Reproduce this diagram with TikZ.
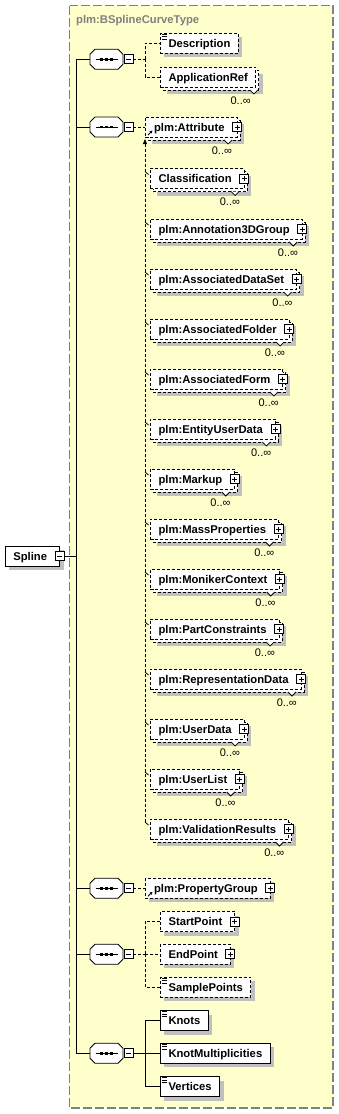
\documentclass[tikz,border=0pt]{standalone}
\usepackage{fontspec}
\setmainfont{Liberation Sans}
\usetikzlibrary{calc,arrows.meta}
\pgfdeclarelayer{bg}
\pgfdeclarelayer{shadow}
\pgfdeclarelayer{back}
\pgfsetlayers{bg,shadow,back,main}
\definecolor{bgyellow}{RGB}{255,255,204}
\definecolor{shadowgray}{RGB}{192,192,192}
\definecolor{framegray}{RGB}{128,128,128}
\newcommand\efont{\fontsize{11.25}{13}\selectfont\bfseries}
\newcommand\mfont{\fontsize{11}{13}\selectfont}
\tikzset{
  box/.style={draw=black, fill=white, line width=0.8pt, minimum height=20pt, inner sep=0pt, outer sep=0pt, anchor=west, font=\efont, text height=8pt, text depth=0pt},
  opt/.style={dash pattern=on 3pt off 2pt},
  conn/.style={draw=black, line width=0.8pt},
  optconn/.style={conn, dash pattern=on 3pt off 2pt},
  pmbox/.style={draw=black, fill=white, solid, line width=0.8pt, minimum size=9pt, inner sep=0pt, outer sep=0pt},
  plusbox/.style={pmbox, path picture={
     \draw[solid, line width=0.8pt] ([xshift=2pt]path picture bounding box.west) -- ([xshift=-2pt]path picture bounding box.east);
     \draw[solid, line width=0.8pt] ([yshift=-2pt]path picture bounding box.north) -- ([yshift=2pt]path picture bounding box.south);}},
  minusbox/.style={pmbox, path picture={
     \draw[solid, line width=0.8pt] ([xshift=2pt]path picture bounding box.west) -- ([xshift=-2pt]path picture bounding box.east);}},
  seqholder/.style={minimum width=33pt, minimum height=20pt, inner sep=0pt, outer sep=0pt},
  seqshape/.style={draw=black, fill=white, line width=0.8pt},
  mult/.style={font=\mfont, anchor=east, inner sep=0pt, text height=8pt, text depth=0pt},
  shadowfill/.style={fill=shadowgray},
}
\newcommand\xShadow[2]{\begin{pgfonlayer}{shadow}\fill[shadowfill] ($(#1.north west)+(#2,#2)$) rectangle ($(#1.south east)+(#2,#2)$);\end{pgfonlayer}}
\newcommand\xBack[2]{\begin{pgfonlayer}{back}\draw[line width=0.8pt,fill=white,#2] ($(#1.north west)+(3,3)$) rectangle ($(#1.south east)+(3,3)$);\end{pgfonlayer}}
\newcommand\xPlus[1]{\node[plusbox] (#1p) at (#1.east) {};}
\newcommand\xMult[3]{%
  \draw[line width=0.8pt, fill=white, solid] ($(#1.south east)+(-#2-4,3)$) -- ++(4,4) -- ++(4,-4);
  \node[mult] (#1m) at ($(#1.east)+(-#3,23)$) {0..∞};}
\newcommand\xIcon[1]{\foreach \dy in {1,3.3,5.6}{\draw[line width=0.8pt,solid] ($(#1.north west)+(2,\dy)$) -- ++(5,0);}}
\newcommand\xRef[1]{\draw[line width=0.8pt,solid,-{Stealth[length=3pt,width=3pt]}] ($(#1.south west)+(3,-2)$) -- ++(4.5,-4.5);}
\newcommand\xOctPath[1]{($(#1.north west)+(0,5)$) -- ($(#1.north west)+(5,0)$) -- ($(#1.north east)+(-5,0)$) -- ($(#1.north east)+(0,5)$) -- ($(#1.south east)+(0,-5)$) -- ($(#1.south east)+(-5,0)$) -- ($(#1.south west)+(5,0)$) -- ($(#1.south west)+(0,-5)$) -- cycle}
\newcommand\xSeq[2]{%
  \node[seqholder] (#1) at (106.5,#2) {};
  \begin{pgfonlayer}{shadow}\begin{scope}[shift={(4,4)}]\fill[shadowfill] \xOctPath{#1};\end{scope}\end{pgfonlayer}
  \draw[seqshape] \xOctPath{#1};
  \draw[line width=1pt] ($(#1.center)+(-11,0)$) -- ($(#1.center)+(11,0)$);
  \foreach \dx in {-5,0,5}{\fill ($(#1.center)+(\dx-1.3,-1.3)$) rectangle ++(2.6,2.6);}
  \node[minusbox] (#1m) at ($(#1.east)+(5.5,0)$) {};}
\newcommand\xMember[3]{%
  \node[box,opt] (#1) at (150,#2) {\kern8.5pt #3\kern12.5pt};
  \xShadow{#1}{7}\xBack{#1}{opt}\xPlus{#1}\xMult{#1}{9}{4}
  \draw[conn] ($(#1.west)+(-5,-7)$) -- ($(#1.west)+(-1.5,-4)$);}
\begin{document}
\begin{tikzpicture}[x=1pt,y=-1pt]
\useasboundingbox (0,0) rectangle (338,1114);
\begin{pgfonlayer}{bg}
  \fill[bgyellow] (69.5,5.5) rectangle (333,1108);
  \draw[framegray, line width=1.2pt, dash pattern=on 9pt off 3pt] (69.5,5.5) rectangle (333,1108);
\end{pgfonlayer}
\node[anchor=west, font=\efont, text=framegray, inner sep=0pt, text height=8pt, text depth=0pt] (title) at (76,19) {plm:BSplineCurveType};

% root
\node[box] (spline) at (5,556) {\kern8.3pt Spline\kern12.5pt};
\xShadow{spline}{4}
\node[minusbox] (splinem) at (spline.east) {};

% compositors
\xSeq{seq1}{59.3}
\xSeq{seq2}{127}
\xSeq{seq3}{888.3}
\xSeq{seq4}{954.3}
\xSeq{seq5}{1053.3}

% sequence 1
\node[box,opt] (desc) at (160,43.3) {\kern8.5pt Description\kern8pt};
\xShadow{desc}{4}\xIcon{desc}
\node[box,opt] (appref) at (160,77) {\kern8.5pt ApplicationRef\kern8pt};
\xShadow{appref}{7}\xBack{appref}{opt}\xMult{appref}{2}{5}

% sequence 2
\node[box,opt] (attr) at (145,127) {\kern9pt plm:Attribute\kern12.5pt};
\xShadow{attr}{7}\xBack{attr}{opt}\xPlus{attr}\xMult{attr}{9}{5}\xRef{attr}

\xMember{clas}{178.5}{Classification}
\xMember{annot}{229}{plm:Annotation3DGroup}
\xMember{adset}{279}{plm:AssociatedDataSet}
\xMember{afold}{329}{plm:AssociatedFolder}
\xMember{aform}{379}{plm:AssociatedForm}
\xMember{euser}{429}{plm:EntityUserData}
\xMember{markup}{479}{plm:Markup}
\xMember{massp}{529}{plm:MassProperties}
\xMember{monik}{579}{plm:MonikerContext}
\xMember{partc}{629}{plm:PartConstraints}
\xMember{repd}{679}{plm:RepresentationData}
\xMember{userd}{729}{plm:UserData}
\xMember{userl}{779}{plm:UserList}
\xMember{valid}{829}{plm:ValidationResults}

% sequence 3
\node[box,opt] (propg) at (145,888.3) {\kern9pt plm:PropertyGroup\kern12.5pt};
\xShadow{propg}{4}\xPlus{propg}\xRef{propg}

% sequence 4
\node[box,opt] (startp) at (160,921.7) {\kern8.5pt StartPoint\kern12.5pt};
\xShadow{startp}{4}\xPlus{startp}
\node[box,opt] (endp) at (160,954.3) {\kern8.5pt EndPoint\kern12.5pt};
\xShadow{endp}{4}\xPlus{endp}
\node[box,opt] (samplep) at (160,987.3) {\kern8.5pt SamplePoints\kern8pt};
\xShadow{samplep}{4}\xIcon{samplep}

% sequence 5
\node[box] (knots) at (160,1020.7) {\kern8.5pt Knots\kern8pt};
\xShadow{knots}{4}\xIcon{knots}
\node[box] (knotm) at (160,1053.3) {\kern8.5pt KnotMultiplicities\kern8pt};
\xShadow{knotm}{4}\xIcon{knotm}
\node[box] (vert) at (160,1086.7) {\kern8.5pt Vertices\kern8pt};
\xShadow{vert}{4}\xIcon{vert}

% trunk
\draw[conn] (seq1.west) -- ++(-14,0) coordinate (trunk);
\draw[conn] (trunk) -- (trunk |- seq5.west) -- (seq5.west);
\foreach \s in {seq2,seq3,seq4}{\draw[conn] (\s.west) -- (\s.west -| trunk);}
\draw[conn] (splinem.east) -- (splinem.east -| trunk);

% branches
\draw[optconn] (seq1m.east) -- ++(12,0) coordinate (b1);
\draw[optconn] (b1) |- (desc.west);
\draw[optconn] (b1) |- (appref.west);
\draw[optconn] (seq2m.east) -- (attr.west);
\draw[optconn] (seq3m.east) -- (propg.west);
\draw[optconn] (seq4m.east) -- ++(12,0) coordinate (b4);
\draw[optconn] (b4) |- (startp.west);
\draw[optconn] (b4) |- (endp.west);
\draw[optconn] (b4) |- (samplep.west);
\draw[conn] (seq5m.east) -- ++(12,0) coordinate (b5);
\draw[conn] (b5) |- (knots.west);
\draw[conn] (b5) |- (knotm.west);
\draw[conn] (b5) |- (vert.west);

% substitution group
\coordinate (subend) at ($(valid.west)+(-5,-7)$);
\draw[optconn, -{Triangle[length=5pt,width=4pt]}] (subend) -- ($(attr.south west)+(0,2)$);
\end{tikzpicture}
\end{document}
